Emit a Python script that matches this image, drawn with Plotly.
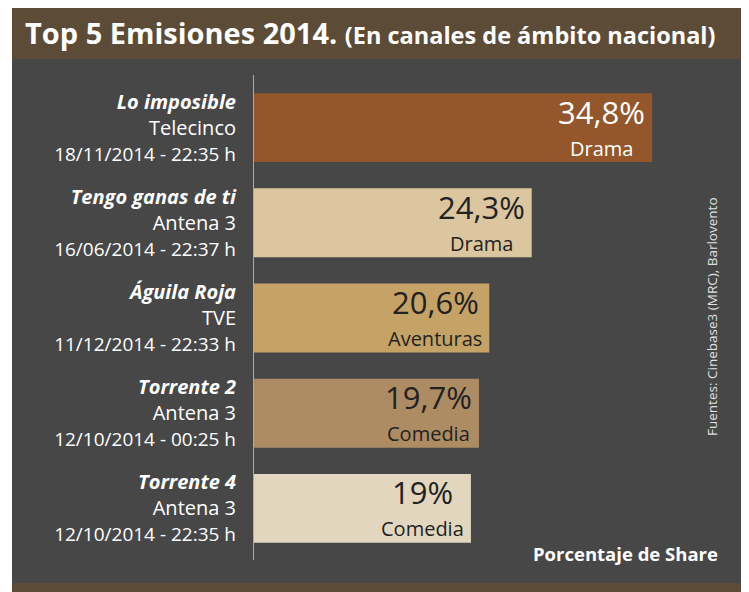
import plotly.graph_objects as go

# ---- data ----
titles = ["Lo imposible", "Tengo ganas de ti", "Águila Roja", "Torrente 2", "Torrente 4"]
channels = ["Telecinco", "Antena 3", "TVE", "Antena 3", "Antena 3"]
dates = ["18/11/2014 - 22:35 h", "16/06/2014 - 22:37 h", "11/12/2014 - 22:33 h",
         "12/10/2014 - 00:25 h", "12/10/2014 - 22:35 h"]
share = [34.8, 24.3, 20.6, 19.7, 19.0]
genres = ["Drama", "Drama", "Aventuras", "Comedia", "Comedia"]
bar_colors = ["#93572b", "#dbc6a0", "#c5a266", "#ad8b63", "#e3d6bf"]
text_colors = ["#ffffff", "#222222", "#222222", "#222222", "#222222"]

# ---- geometry (page has an 8px body margin) ----
OFF = 8
W, H = 749 - OFF, 592 - OFF
L, R, T, B = 253 - OFF, 9, 80 - OFF, 36
PW, PH = W - L - R, H - T - B
FONT = "Open Sans"
PCT_SIZE, GEN_SIZE = 31, 20
PX_PER_UNIT = 11.47

def px(x):
    return (x - OFF - L) / PW

def py(y):
    return 1 - (y - OFF - T) / PH

# approximate Open Sans advance widths (em)
_w = {"0": .572, "1": .572, "2": .572, "3": .572, "4": .572, "5": .572, "6": .572,
      "7": .572, "8": .572, "9": .572, ",": .244, "%": .828, "A": .633, "C": .619,
      "D": .711, "a": .556, "d": .613, "e": .561, "i": .253, "m": .930, "n": .614,
      "o": .604, "r": .408, "s": .477, "t": .344, "u": .614, "v": .501}

def tw(s, size):
    return sum(_w.get(c, .55) for c in s) * size

idx = list(range(len(share)))
ticktext = [f"<b><i>{t}</i></b><br>{c}<br><span style='font-size:19px'>{d}</span>"
            for t, c, d in zip(titles, channels, dates)]

fig = go.Figure()
fig.add_trace(go.Bar(
    x=share, y=idx, orientation="h",
    marker=dict(color=bar_colors, line=dict(width=0)),
    width=0.724, hoverinfo="skip",
))

shapes = [
    dict(type="rect", xref="paper", yref="paper", x0=px(12), x1=px(742), y0=py(59), y1=py(7),
         fillcolor="#5c4b37", line=dict(width=0), layer="below"),
    dict(type="rect", xref="paper", yref="paper", x0=px(12), x1=px(744), y0=py(583), y1=py(59),
         fillcolor="#474747", line=dict(width=0), layer="below"),
    dict(type="rect", xref="paper", yref="paper", x0=px(12), x1=px(742), y0=py(592), y1=py(583),
         fillcolor="#5c4b37", line=dict(width=0), layer="below"),
    dict(type="line", xref="x", yref="paper", x0=0, x1=0, y0=py(560), y1=py(75),
         line=dict(color="#aaaaaa", width=2), layer="above"),
]

annotations = []
PAD = 7
for i, (v, g, tc) in enumerate(zip(share, genres, text_colors)):
    lab = f"{v:g}".replace(".", ",") + "%"
    block = max(tw(lab, PCT_SIZE), tw(g, GEN_SIZE))
    shift = -(PAD + block / 2)
    annotations.append(dict(
        x=v, y=i, xref="x", yref="y", xanchor="center", yanchor="bottom",
        xshift=shift, yshift=-6, showarrow=False, borderpad=0,
        text=lab, font=dict(family=FONT, size=PCT_SIZE, color=tc),
    ))
    annotations.append(dict(
        x=v, y=i, xref="x", yref="y", xanchor="center", yanchor="top",
        xshift=shift, yshift=-6, showarrow=False, borderpad=0,
        text=g, font=dict(family=FONT, size=GEN_SIZE, color=tc),
    ))

annotations += [
    dict(xref="paper", yref="paper", x=px(24), y=py(33), xanchor="left", yanchor="middle",
         showarrow=False, borderpad=0,
         text="<b>Top 5 Emisiones 2014.</b> <b><span style='font-size:23.5px'>(En canales de ámbito nacional)</span></b>",
         font=dict(family=FONT, size=29, color="#ffffff")),
    dict(xref="paper", yref="paper", x=px(719), y=py(553), xanchor="right", yanchor="middle",
         showarrow=False, borderpad=0, text="<b>Porcentaje de Share</b>",
         font=dict(family=FONT, size=18.5, color="#ffffff")),
    dict(xref="paper", yref="paper", x=px(712), y=py(317), xanchor="center", yanchor="middle",
         showarrow=False, borderpad=0, textangle=-90, text="Fuentes: Cinebase3 (MRC), Barlovento",
         font=dict(family=FONT, size=13.5, color="#e0e0e0")),
]

fig.update_layout(
    width=W, height=H,
    margin=dict(l=L, r=R, t=T, b=B, pad=0),
    paper_bgcolor="#ffffff", plot_bgcolor="rgba(0,0,0,0)",
    showlegend=False, bargap=0.276,
    shapes=shapes, annotations=annotations,
    xaxis=dict(range=[0, PW / PX_PER_UNIT], visible=False, fixedrange=True),
    yaxis=dict(range=[4.5, -0.5], tickmode="array", tickvals=idx, ticktext=ticktext,
               showgrid=False, zeroline=False, showline=False, ticks="",
               ticklabelstandoff=16,
               tickfont=dict(family=FONT, size=20, color="#ffffff"), fixedrange=True),
    font=dict(family=FONT),
)

fig.write_html("out.html")
